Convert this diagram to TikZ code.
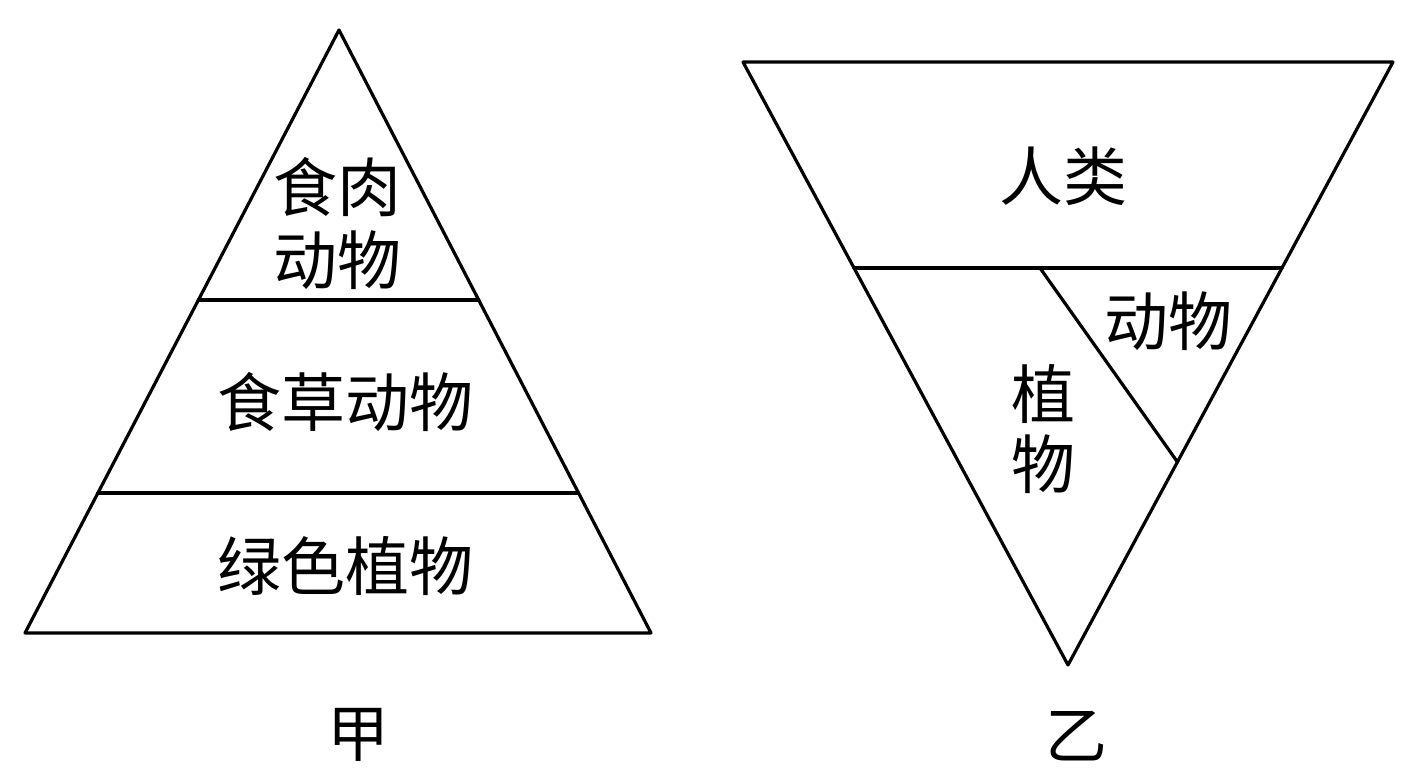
\documentclass[tikz,border=0pt]{standalone}
\usepackage{fontspec}
\setmainfont{Noto Sans CJK SC}
\usetikzlibrary{calc}
\begin{document}
\begin{tikzpicture}[x=1pt,y=-1pt,
  edge/.style={line width=3.2pt,line join=round,line cap=round},
  lbl/.style={font=\fontsize{64}{76}\selectfont,inner sep=0pt},
  figlabel/.style={font=\fontsize{62}{74}\selectfont,inner sep=0pt}]
\useasboundingbox (0,0) rectangle (1417,782);
% left pyramid
\coordinate (A) at (339,30);
\coordinate (BL) at (25,633);
\coordinate (BR) at (651,633);
\coordinate (L1a) at ($(A)!0.4478!(BL)$);
\coordinate (L1b) at ($(A)!0.4478!(BR)$);
\coordinate (L2a) at ($(A)!0.7678!(BL)$);
\coordinate (L2b) at ($(A)!0.7678!(BR)$);
\draw[edge] (A) -- (BL) -- (BR) -- cycle;
\draw[edge] (L1a) -- (L1b);
\draw[edge] (L2a) -- (L2b);
\node[lbl] (carn1) at (337,187) {食肉};
\node[lbl] (carn2) at (337,260) {动物};
\node[lbl] (herb) at (345,402) {食草动物};
\node[lbl] (plant) at (345,566) {绿色植物};
\node[figlabel] (jia) at (358,735) {甲};
% right inverted pyramid
\coordinate (TL) at (743,62);
\coordinate (TR) at (1393,62);
\coordinate (B) at (1068,665);
\coordinate (M1a) at ($(TL)!0.3416!(B)$);
\coordinate (M1b) at ($(TR)!0.3416!(B)$);
\coordinate (D1) at (1040,268);
\coordinate (D2) at ($(TR)!0.6633!(B)$);
\draw[edge] (TL) -- (TR) -- (B) -- cycle;
\draw[edge] (M1a) -- (M1b);
\draw[edge] (D1) -- (D2);
\node[lbl] (human) at (1063,176) {人类};
\node[lbl] (anim) at (1168,321) {动物};
\node[lbl] (zhi) at (1043,394) {植};
\node[lbl] (wu) at (1043,464) {物};
\node[figlabel] (yi) at (1076,736) {乙};
\end{tikzpicture}
\end{document}
